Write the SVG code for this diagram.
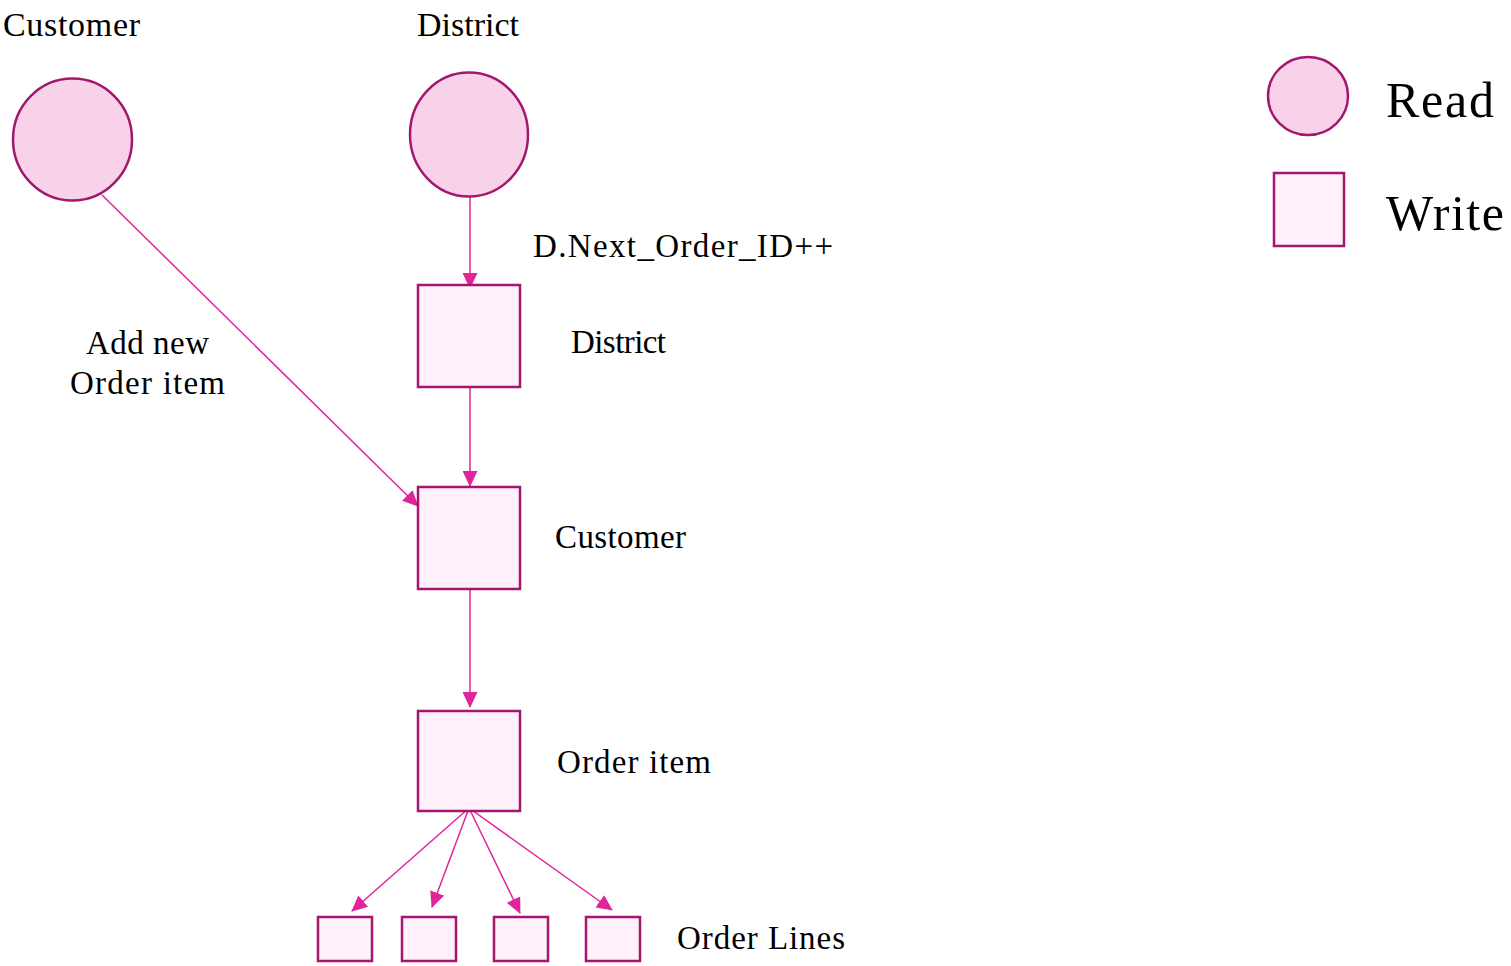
<svg xmlns="http://www.w3.org/2000/svg" width="1511" height="966" viewBox="0 0 1511 966">
  <style>
    .read { fill: #f8d2e9; stroke: #a3176f; stroke-width: 2.5; }
    .write { fill: #fff0fa; stroke: #a3176f; stroke-width: 2.5; }
    .edge { stroke: #e0259a; stroke-width: 1.5; fill: none; marker-end: url(#arrow); }
    text { font-family: "Liberation Serif", "Times New Roman", serif; fill: #000; }
    .title { font-size: 34px; }
    .lbl { font-size: 33px; }
    .big { font-size: 50px; }
  </style>
  <defs>
    <marker id="arrow" markerUnits="userSpaceOnUse" markerWidth="16" markerHeight="15" viewBox="0 0 16 15" refX="15" refY="7.5" orient="auto">
      <path d="M0,0 L16,7.5 L0,15 Z" fill="#e0259a"/>
    </marker>
  </defs>

  <rect width="1511" height="966" fill="#ffffff"/>

  <!-- connectors -->
  <g id="connectors">
    <line class="edge" x1="470" y1="190" x2="470" y2="288"/>
    <line class="edge" x1="470" y1="388" x2="470" y2="486"/>
    <line class="edge" x1="470" y1="590" x2="470" y2="707"/>
    <line class="edge" x1="102" y1="195" x2="418" y2="506"/>
    <line class="edge" x1="469" y1="808" x2="352" y2="911"/>
    <line class="edge" x1="469" y1="808" x2="432" y2="907"/>
    <line class="edge" x1="469" y1="808" x2="520" y2="913"/>
    <line class="edge" x1="469" y1="808" x2="612" y2="910"/>
  </g>

  <!-- read nodes -->
  <g id="read-customer">
    <ellipse class="read" cx="72.5" cy="139.5" rx="59.5" ry="61"/>
    <text class="title" x="3" y="36" textLength="137">Customer</text>
  </g>
  <g id="read-district">
    <ellipse class="read" cx="469" cy="134.5" rx="59" ry="62"/>
    <text class="title" x="417" y="36" textLength="102">District</text>
  </g>

  <!-- write nodes -->
  <g id="write-district">
    <rect class="write" x="418" y="285" width="102" height="102"/>
    <text class="lbl" x="571" y="353" textLength="95">District</text>
    <text class="lbl" x="533" y="257" textLength="300">D.Next_Order_ID++</text>
  </g>
  <g id="write-customer">
    <rect class="write" x="418" y="487" width="102" height="102"/>
    <text class="lbl" x="555" y="548" textLength="131">Customer</text>
  </g>
  <g id="write-order-item">
    <rect class="write" x="418" y="711" width="102" height="100"/>
    <text class="lbl" x="557" y="773" textLength="154">Order item</text>
  </g>
  <g id="order-line-1">
    <rect class="write" x="318" y="917" width="54" height="44"/>
  </g>
  <g id="order-line-2">
    <rect class="write" x="402" y="917" width="54" height="44"/>
  </g>
  <g id="order-line-3">
    <rect class="write" x="494" y="917" width="54" height="44"/>
  </g>
  <g id="order-line-4">
    <rect class="write" x="586" y="917" width="54" height="44"/>
  </g>
  <text class="lbl" x="677" y="949" textLength="168">Order Lines</text>

  <!-- edge label -->
  <g id="label-add-order">
    <text class="lbl" x="86" y="354" textLength="123">Add new</text>
    <text class="lbl" x="70" y="394" textLength="155">Order item</text>
  </g>

  <!-- legend -->
  <g id="legend-read">
    <ellipse class="read" cx="1308" cy="96" rx="40" ry="39"/>
    <text class="big" x="1386" y="117" textLength="108">Read</text>
  </g>
  <g id="legend-write">
    <rect class="write" x="1274" y="173" width="70" height="73"/>
    <text class="big" x="1386" y="230" textLength="118">Write</text>
  </g>
</svg>
